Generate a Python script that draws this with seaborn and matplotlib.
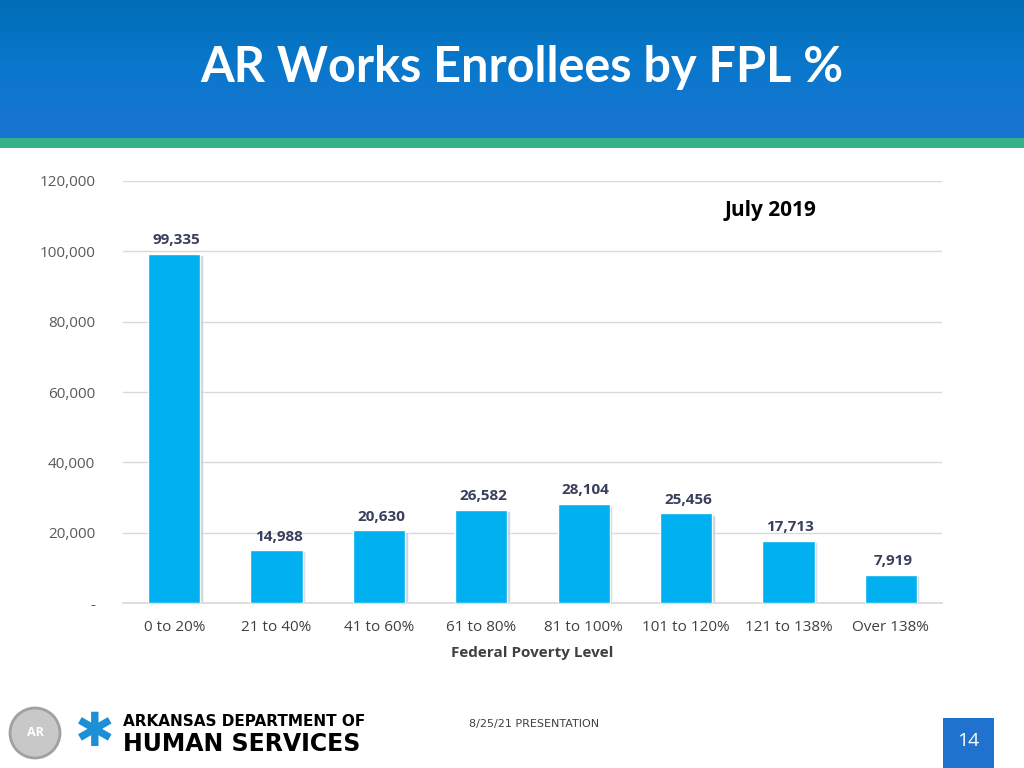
import numpy as np
import pandas as pd
import matplotlib
matplotlib.use("Agg")
import matplotlib.pyplot as plt
import matplotlib.patches as mpatches
from matplotlib.ticker import FuncFormatter
import seaborn as sns

categories = ['0 to 20%', '21 to 40%', '41 to 60%', '61 to 80%',
              '81 to 100%', '101 to 120%', '121 to 138%', 'Over 138%']
enrollees = [99335, 14988, 20630, 26582, 28104, 25456, 17713, 7919]
y_ticks = [0, 20000, 40000, 60000, 80000, 100000, 120000]

df = pd.DataFrame({'fpl': categories, 'count': enrollees})

sns.set_theme(style='white')
plt.rcParams['font.family'] = ['Open Sans', 'DejaVu Sans']

fig = plt.figure(figsize=(10.24, 7.68), dpi=100)

# header band with gradient
hdr = fig.add_axes([0, 1 - 138 / 768, 1, 138 / 768])
grad = np.linspace(0, 1, 100).reshape(-1, 1)
cmap = matplotlib.colors.LinearSegmentedColormap.from_list('hdr', ['#006DB6', '#0A78CC', '#1B74D2'])
hdr.imshow(grad, aspect='auto', cmap=cmap, extent=[0, 1, 0, 1])
hdr.axis('off')
stripe = fig.add_axes([0, 1 - 148 / 768, 1, 10 / 768])
stripe.set_facecolor('#37B08C')
stripe.set_xticks([])
stripe.set_yticks([])
for s in stripe.spines.values():
    s.set_visible(False)
fig.text(0.51, 1 - 68 / 768, 'AR Works Enrollees by FPL %', color='white',
         fontsize=35, fontweight='bold', ha='center', va='center', family=['Lato', 'DejaVu Sans'])

ax = fig.add_axes([123 / 1024, 1 - 603 / 768, 819 / 1024, 422 / 768])
# shadow bars
sns.barplot(data=df, x='fpl', y='count', color='#9FB6C4', width=0.51, ax=ax,
            saturation=1, zorder=2)
for p in ax.patches:
    p.set_x(p.get_x() + 0.025)
    p.set_y(p.get_y() - 300)
    p.set_alpha(0.6)
sns.barplot(data=df, x='fpl', y='count', color='#00B0F0', width=0.51, ax=ax,
            saturation=1, zorder=3)
ax.set_ylim(0, 120000)
ax.set_xlim(-0.5, len(categories) - 0.5)
ax.set_yticks(y_ticks)
ax.yaxis.set_major_formatter(FuncFormatter(lambda v, p: '-' if v == 0 else f'{int(v):,}'))
ax.yaxis.grid(True, color='#D9D9D9', linewidth=1)
ax.set_axisbelow(True)
for s in ['top', 'right', 'left']:
    ax.spines[s].set_visible(False)
ax.spines['bottom'].set_color('#D9D9D9')
ax.tick_params(axis='y', colors='#595959', labelsize=11, pad=20, length=0)
ax.tick_params(axis='x', colors='#404040', labelsize=11, pad=12, length=0)
ax.set_ylabel('')
ax.set_xlabel('Federal Poverty Level', fontsize=11, fontweight='bold', color='#404040', labelpad=8)

for i, v in enumerate(enrollees):
    ax.text(i + 0.02, v + 1900, f'{v:,}', ha='center', va='bottom', fontsize=11,
            fontweight='bold', color='#3A3F5C')

ax.text(0.79, 0.93, 'July 2019', transform=ax.transAxes, fontsize=15,
        fontweight='bold', color='black', ha='center', va='center')

# footer
fig.text(0.522, 1 - 724 / 768, '8/25/21 PRESENTATION', fontsize=8, color='#404040',
         ha='center', va='center', family=['Liberation Sans Narrow', 'DejaVu Sans'])
box = mpatches.Rectangle((943 / 1024, 0), 51 / 1024, 50 / 768, transform=fig.transFigure,
                         facecolor='#1F73CE', edgecolor='none')
fig.patches.append(box)
fig.text(968 / 1024, 1 - 741 / 768, '14', color='white', fontsize=14, ha='center', va='center')

seal = mpatches.Ellipse((35 / 1024, 1 - 733 / 768), 50 / 1024, 50 / 768, transform=fig.transFigure,
                        facecolor='#C8C8C8', edgecolor='#A0A0A0', linewidth=2)
fig.patches.append(seal)
fig.text(35 / 1024, 1 - 733 / 768, 'AR', color='white', fontsize=9, fontweight='bold',
         ha='center', va='center')
fig.text(95 / 1024, 1 - 733 / 768, '✱', color='#1C8FD6', fontsize=34, ha='center', va='center',
         family=['DejaVu Sans'])
fig.text(123 / 1024, 1 - 722 / 768, 'ARKANSAS DEPARTMENT OF', color='black', fontsize=11,
         fontweight='heavy', ha='left', va='center', family=['Liberation Sans Narrow', 'DejaVu Sans'])
fig.text(123 / 1024, 1 - 744 / 768, 'HUMAN SERVICES', color='black', fontsize=17,
         fontweight='heavy', ha='left', va='center', family=['Liberation Sans Narrow', 'DejaVu Sans'])

fig.savefig('out.png', dpi=100)
